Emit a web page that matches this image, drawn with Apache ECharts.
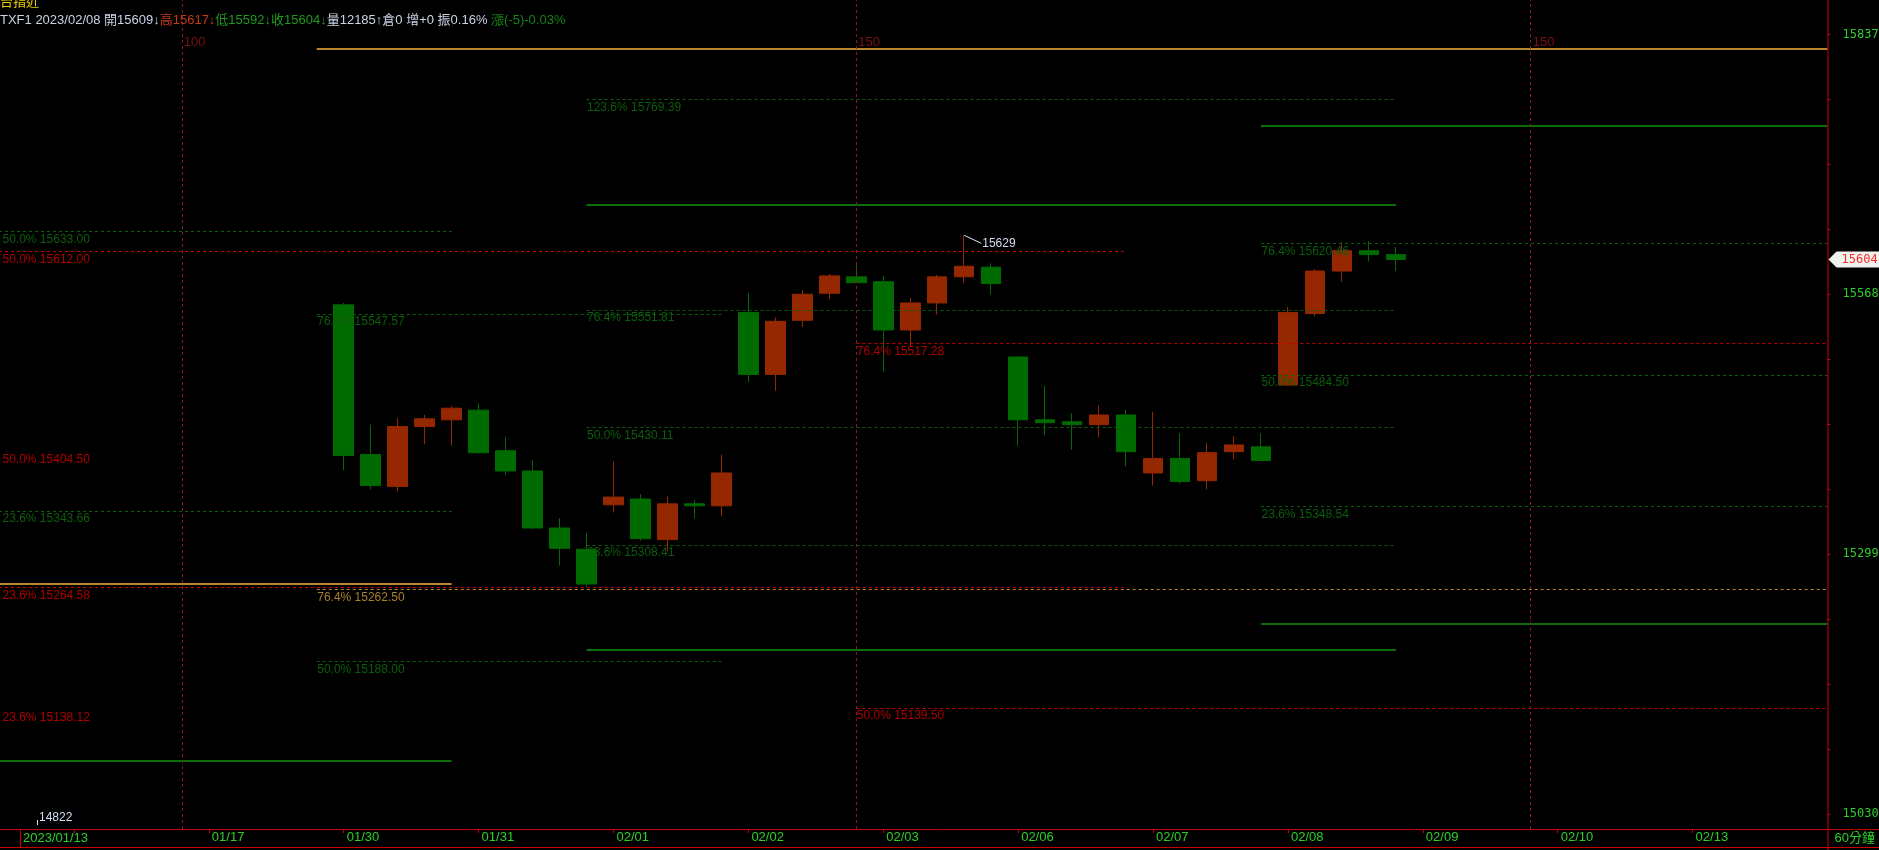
<!DOCTYPE html>
<html><head><meta charset="utf-8">
<script src="https://cdn.jsdelivr.net/npm/echarts@6/dist/echarts.min.js"></script>
<style>html,body{margin:0;padding:0;background:#000;overflow:hidden}#c{width:1879px;height:850px}</style>
</head><body><div id="c"></div>
<script>
// ---- x axis: one category per 60-minute bar (bar numbers) ----
const firstBar = 93, lastBar = 161;
const dayLabels    = ['2023/01/13','01/17','01/30','01/31','02/01','02/02','02/03','02/06','02/07','02/08','02/09','02/10','02/13'];
const dayStartBars = [96, 101, 106, 111, 116, 121, 126, 131, 136, 141, 146, 151, 156];

// ---- candles (bars 106 .. 145) ----
const candleStartBar = 106;
const opens  = [15557,15402,15369,15431,15438, 15448,15406,15385,15326,15304, 15350,15356,15314,15351,15349, 15549,15485,15541,15569,15586, 15581,15531,15559,15586,15596, 15503,15438,15436,15433,15443, 15383,15398,15375,15405,15410, 15474,15548,15592,15613,15609];
const closes = [15401,15370,15431,15439,15450, 15404,15385,15326,15305,15268, 15358,15315,15351,15349,15383, 15485,15540,15568,15587,15580, 15531,15559,15586,15597,15579, 15438,15435,15433,15443,15405, 15398,15374,15404,15412,15396, 15549,15592,15613,15609,15604];
const lows   = [15386,15366,15364,15413,15411, 15403,15381,15325,15287,15265, 15342,15313,15302,15336,15338, 15477,15468,15534,15563,15580, 15488,15514,15547,15580,15568, 15411,15422,15407,15420,15390, 15370,15372,15366,15397,15395, 15474,15545,15581,15602,15592];
const highs  = [15559,15433,15440,15443,15452, 15455,15420,15396,15336,15321, 15395,15361,15359,15355,15402, 15569,15544,15572,15589,15600, 15587,15564,15588,15629,15600, 15504,15473,15445,15453,15448, 15446,15424,15414,15421,15424, 15555,15594,15622,15623,15617];

// ---- drawing tools: [startBar, endBar, price, label] ----
const greenDashed = [
  [93,110,15633.00,'50.0% 15633.00'], [93,110,15343.66,'23.6% 15343.66'],
  [105,120,15547.57,'76.4% 15547.57'], [105,120,15188.00,'50.0% 15188.00'],
  [115,145,15769.39,'123.6% 15769.39'], [115,145,15551.81,'76.4% 15551.81'],
  [115,145,15430.11,'50.0% 15430.11'], [115,145,15308.41,'23.6% 15308.41'],
  [140,161,15620.46,'76.4% 15620.46'], [140,161,15484.50,'50.0% 15484.50'], [140,161,15348.54,'23.6% 15348.54']
];
const greenSolid = [[93,110,15085],[115,145,15199.6],[115,145,15660.6],[140,161,15227],[140,161,15742]];
const redDashed = [
  [93,135,15612.00,'50.0% 15612.00'], [93,135,15264.58,'23.6% 15264.58'],
  [125,161,15517.28,'76.4% 15517.28'], [125,161,15139.50,'50.0% 15139.50']
];
const redLabelOnly = [[93,110,15404.50,'50.0% 15404.50'],[93,110,15138.12,'23.6% 15138.12']];
const goldSolid  = [[105,161,15822],[93,110,15268]];
const goldDashed = [[105,161,15262.50,'76.4% 15262.50']];
const markerBars   = [100,125,150];
const markerLabels = ['100','150','150'];

// ---- y axis ----
const yTickLabels = [15030,15299,15568,15837];
const yMin = 15014.4, yMax = 15872.6;

// ---- annotations ----
const highMark = {bar:129, price:15629, text:'15629'};
const lowMarkText = '14822';
const lastClose = 15604;
const headerTitle = '台指近';
const headerParts = [
  ['w','TXF1 2023/02/08 開15609↓'],['r','高15617↓'],['g','低15592↓'],['g','收15604↓'],
  ['w','量12185↑倉0 增+0 振0.16% '],['g2','漲(-5)-0.03%']
];
const periodLabel = '60分鐘';

// ---------------------------------------------------------------
const cats = [];
for (let b = firstBar; b <= lastBar; b++) cats.push(String(b));
const candleData = cats.map(c => {
  const i = +c - candleStartBar;
  return (i >= 0 && i < opens.length) ? [opens[i], closes[i], lows[i], highs[i]] : '-';
});

const C = {
  gLine:'#0b5f0b', gSolid:'#0b6e0b', gText:'#0c5e0c',
  rLine:'#c40000', rText:'#b00000',
  oLine:'#b8862b', oText:'#a8802a',
  frame:'#c80000', axisTxt:'#2bcf2b', marker:'#8a1c1c', markerTxt:'#7a1212'
};
const FONT = '"Liberation Sans", Arial, sans-serif';
const CJK = '"Liberation Sans","Noto Sans CJK TC",sans-serif';

function seg(s, e, p, txt, lineColor, type, width, txtColor) {
  const dx = (s === firstBar) ? 9.5 : 0.5;
  return [
    { coord:[String(s), p], lineStyle:{color:lineColor, type:type, width:width},
      label: txt ? {show:true, formatter:txt, position:'insideStartBottom', distance:[dx,2],
                    color:txtColor, fontSize:12, fontFamily:FONT} : {show:false} },
    { coord:[String(e), p] }
  ];
}
const DASH = [3,3];
const mk = [];
greenSolid.forEach(d => mk.push(seg(d[0],d[1],d[2],null,C.gSolid,'solid',2)));
goldSolid.forEach(d => mk.push(seg(d[0],d[1],d[2],null,C.oLine,'solid',2)));
greenDashed.forEach(d => mk.push(seg(d[0],d[1],d[2],d[3],C.gLine,DASH,1,C.gText)));
redDashed.forEach(d => mk.push(seg(d[0],d[1],d[2],d[3],C.rLine,DASH,1,C.rText)));
redLabelOnly.forEach(d => mk.push(seg(d[0],d[1],d[2],d[3],'rgba(0,0,0,0)','solid',1,C.rText)));
goldDashed.forEach(d => mk.push(seg(d[0],d[1],d[2],d[3],C.oLine,DASH,1,C.oText)));
markerBars.forEach(b => mk.push({xAxis:String(b), lineStyle:{color:C.marker, type:DASH, width:1}, label:{show:false}}));

// minor ticks: quarters between labelled ticks
const yTicks = [];
for (let k = 0; k < yTickLabels.length - 1; k++) {
  const a = yTickLabels[k], b = yTickLabels[k+1];
  for (let q = 0; q < 4; q++) yTicks.push(a + (b - a) * q / 4);
}
yTicks.push(yTickLabels[yTickLabels.length - 1]);

const chart = echarts.init(document.getElementById('c'), null, {renderer:'canvas'});
chart.setOption({
  backgroundColor:'#000',
  animation:false,
  grid:{left:-7, right:51.5, top:0, bottom:21, containLabel:false, outerBoundsMode:'none'},
  xAxis:{
    type:'category', data:cats, boundaryGap:false,
    axisLine:{show:false},
    axisTick:{show:true, length:4, lineStyle:{color:C.frame},
      interval:(i, v) => dayStartBars.indexOf(+v) >= 0},
    axisLabel:{show:true, color:C.axisTxt, fontSize:13, fontFamily:FONT, margin:2, align:'left', padding:[0,0,0,3],
      interval:(i, v) => dayStartBars.indexOf(+v) > 0,
      formatter:(v) => { const k = dayStartBars.indexOf(+v); return k >= 0 ? dayLabels[k] : ''; }},
    splitLine:{show:false}
  },
  yAxis:{
    type:'value', position:'right', min:yMin, max:yMax, scale:true,
    axisLine:{show:false},
    axisTick:{show:true, length:3, lineStyle:{color:C.frame}, customValues:yTicks},
    axisLabel:{show:true, color:C.axisTxt, fontSize:12, fontFamily:'"DejaVu Sans Mono", monospace', margin:15,
      customValues:yTickLabels, formatter:(v)=>String(Math.round(v))},
    splitLine:{show:false}
  },
  series:[{
    type:'candlestick', data:candleData, barWidth:20,
    itemStyle:{color:'#952800', color0:'#006b00', borderColor:'#952800', borderColor0:'#006b00', borderWidth:1},
    emphasis:{disabled:true},
    markLine:{symbol:['none','none'], silent:true, animation:false, precision:2, data:mk}
  }]
});

// ---- annotations positioned through the chart's own scales ----
const hp = chart.convertToPixel({seriesIndex:0}, [String(highMark.bar), highMark.price]);
const ly = chart.convertToPixel({yAxisIndex:0}, lastClose);
const axisX = chart.convertToPixel({xAxisIndex:0}, String(lastBar));
const bottomY = chart.convertToPixel({yAxisIndex:0}, yMin);
const g = [];
markerBars.forEach((b, i) => {
  const x = chart.convertToPixel({xAxisIndex:0}, String(b));
  g.push({type:'text', x:x + 2, y:42, style:{text:markerLabels[i], fill:C.markerTxt, font:'13px '+FONT, textVerticalAlign:'middle'}});
});
g.push({type:'polyline', shape:{points:[[hp[0],hp[1]],[hp[0]+17,hp[1]+8]]}, style:{stroke:'#dfe6f5', lineWidth:1, fill:null}});
g.push({type:'text', x:hp[0]+18, y:hp[1]+8, style:{text:highMark.text, fill:'#d4def4', font:'12px '+FONT, textVerticalAlign:'middle'}});
g.push({type:'line', shape:{x1:37.5,y1:820,x2:37.5,y2:825}, style:{stroke:'#dfe6f5', lineWidth:1}});
g.push({type:'text', x:39, y:818, style:{text:lowMarkText, fill:'#d4def4', font:'12px '+FONT, textVerticalAlign:'middle'}});
// frame
g.push({type:'line', shape:{x1:0,y1:bottomY+0.5,x2:1879,y2:bottomY+0.5}, style:{stroke:C.frame, lineWidth:1}, z:50});
g.push({type:'line', shape:{x1:0,y1:847.5,x2:1879,y2:847.5}, style:{stroke:C.frame, lineWidth:1}, z:50});
g.push({type:'line', shape:{x1:20.5,y1:bottomY,x2:20.5,y2:848}, style:{stroke:C.frame, lineWidth:1}, z:50});
g.push({type:'line', shape:{x1:axisX+0.5,y1:0,x2:axisX+0.5,y2:850}, style:{stroke:C.frame, lineWidth:1}, z:50});
g.push({type:'text', x:23, y:bottomY+3, style:{text:dayLabels[0], fill:C.axisTxt, font:'13px '+FONT, textVerticalAlign:'top'}});
g.push({type:'text', x:axisX+7, y:838.5, style:{text:periodLabel, fill:C.axisTxt, font:'13px '+CJK, textVerticalAlign:'middle'}});
// last price flag
g.push({type:'polygon', shape:{points:[[axisX+1,ly],[axisX+9,ly-8],[1879,ly-8],[1879,ly+8],[axisX+9,ly+8]]}, style:{fill:'#eef3ee'}, z:60});
g.push({type:'text', x:axisX+14, y:ly, style:{text:String(lastClose), fill:'#ff2a2a', font:'12px "DejaVu Sans Mono", monospace', textVerticalAlign:'middle'}, z:61});
// header
g.push({type:'text', x:0, y:9, style:{text:headerTitle, fill:'#e8d000', font:'13px '+CJK, textVerticalAlign:'bottom'}, z:70});
g.push({type:'text', x:0, y:20, z:70, style:{
  text: headerParts.map(p => '{'+p[0]+'|'+p[1]+'}').join(''),
  textVerticalAlign:'middle', font:'13px '+CJK,
  rich:{
    w:{fill:'#c9d3e6', font:'13px '+CJK},
    r:{fill:'#c43a14', font:'13px '+CJK},
    g:{fill:'#1f9a1f', font:'13px '+CJK},
    g2:{fill:'#168416', font:'13px '+CJK}
  }}});
chart.setOption({graphic:g});
</script>
</body></html>
